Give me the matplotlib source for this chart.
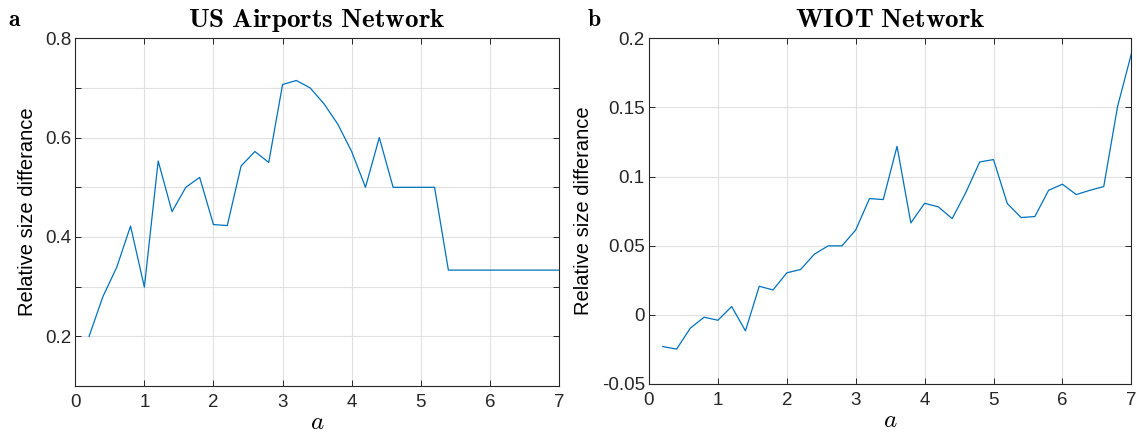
import matplotlib
matplotlib.use('Agg')
import matplotlib.pyplot as plt
import numpy as np

plt.rcParams['font.family'] = ['Liberation Sans', 'DejaVu Sans']
plt.rcParams['mathtext.fontset'] = 'cm'

# Valeurs de a
a_vals = [0.2, 0.4, 0.6, 0.8, 1.0, 1.2, 1.4, 1.6, 1.8, 2.0, 2.2, 2.4, 2.6, 2.8, 3.0,
          3.2, 3.4, 3.6, 3.8, 4.0, 4.2, 4.4, 4.6, 4.8, 5.0, 5.2, 5.4, 5.6, 5.8, 6.0,
          6.2, 6.4, 6.6, 6.8, 7.0]

# US Airports
us_vals = [0.200, 0.280, 0.339, 0.422, 0.299, 0.553, 0.451, 0.500, 0.520, 0.425,
           0.423, 0.543, 0.572, 0.550, 0.707, 0.715, 0.700, 0.668, 0.627, 0.572,
           0.500, 0.600, 0.500, 0.500, 0.500, 0.500, 0.3333, 0.3333, 0.3333, 0.3333,
           0.3333, 0.3333, 0.3333, 0.3333, 0.3333]

# WIOT
wiot_vals = [-0.0229, -0.0248, -0.0096, -0.0017, -0.0039, 0.0060, -0.0116, 0.0207,
             0.0180, 0.0304, 0.0328, 0.0439, 0.0499, 0.0499, 0.0614, 0.0841, 0.0834,
             0.1219, 0.0665, 0.0807, 0.0781, 0.0696, 0.0887, 0.1106, 0.1123, 0.0805,
             0.0704, 0.0711, 0.0901, 0.0945, 0.0870, 0.0901, 0.0928, 0.1506, 0.1887]

us_yticks = [0.1, 0.2, 0.3, 0.4, 0.5, 0.6, 0.7, 0.8]
us_yticklabels = ['', '0.2', '', '0.4', '', '0.6', '', '0.8']
wiot_yticks = [-0.05, 0, 0.05, 0.1, 0.15, 0.2]
wiot_yticklabels = ['-0.05', '0', '0.05', '0.1', '0.15', '0.2']
xticks = [0, 1, 2, 3, 4, 5, 6, 7]

fig = plt.figure(figsize=(11.37, 4.37), dpi=100)
ax1 = fig.add_axes([0.0662, 0.1167, 0.4254, 0.7957])
ax2 = fig.add_axes([0.5708, 0.1213, 0.4242, 0.7910])

line_color = '#0072BD'

def style(ax):
    ax.grid(True, color='#e0e0e0', linewidth=0.8)
    ax.set_axisbelow(True)
    ax.tick_params(direction='in', top=True, right=True, labelsize=13.5,
                   length=4, width=0.7, colors='#262626', pad=3)
    ax.tick_params(axis='x', pad=6)
    for sp in ax.spines.values():
        sp.set_color('#262626')
        sp.set_linewidth(0.8)
    ax.set_xlim(0, 7)
    ax.set_xticks(xticks)
    ax.set_xlabel(r'$a$', fontsize=18, labelpad=-1)
    ax.set_ylabel('Relative size differance', fontsize=14.5, labelpad=6)

ax1.plot(a_vals, us_vals, color=line_color, linewidth=0.9)
style(ax1)
ax1.set_ylim(0.1, 0.8)
ax1.set_yticks(us_yticks)
ax1.set_yticklabels(us_yticklabels)
ax1.set_title(r'$\mathbf{US\ Airports\ Network}$', fontsize=19.5, pad=8)

ax2.plot(a_vals, wiot_vals, color=line_color, linewidth=0.9)
style(ax2)
ax2.set_ylim(-0.05, 0.2)
ax2.set_yticks(wiot_yticks)
ax2.set_yticklabels(wiot_yticklabels)
ax2.set_title(r'$\mathbf{WIOT\ Network}$', fontsize=19.5, pad=8)

fig.text(0.007, 0.955, r'$\mathbf{a}$', fontsize=17, va='center')
fig.text(0.516, 0.955, r'$\mathbf{b}$', fontsize=17, va='center')

fig.savefig('out.png', dpi=100)
